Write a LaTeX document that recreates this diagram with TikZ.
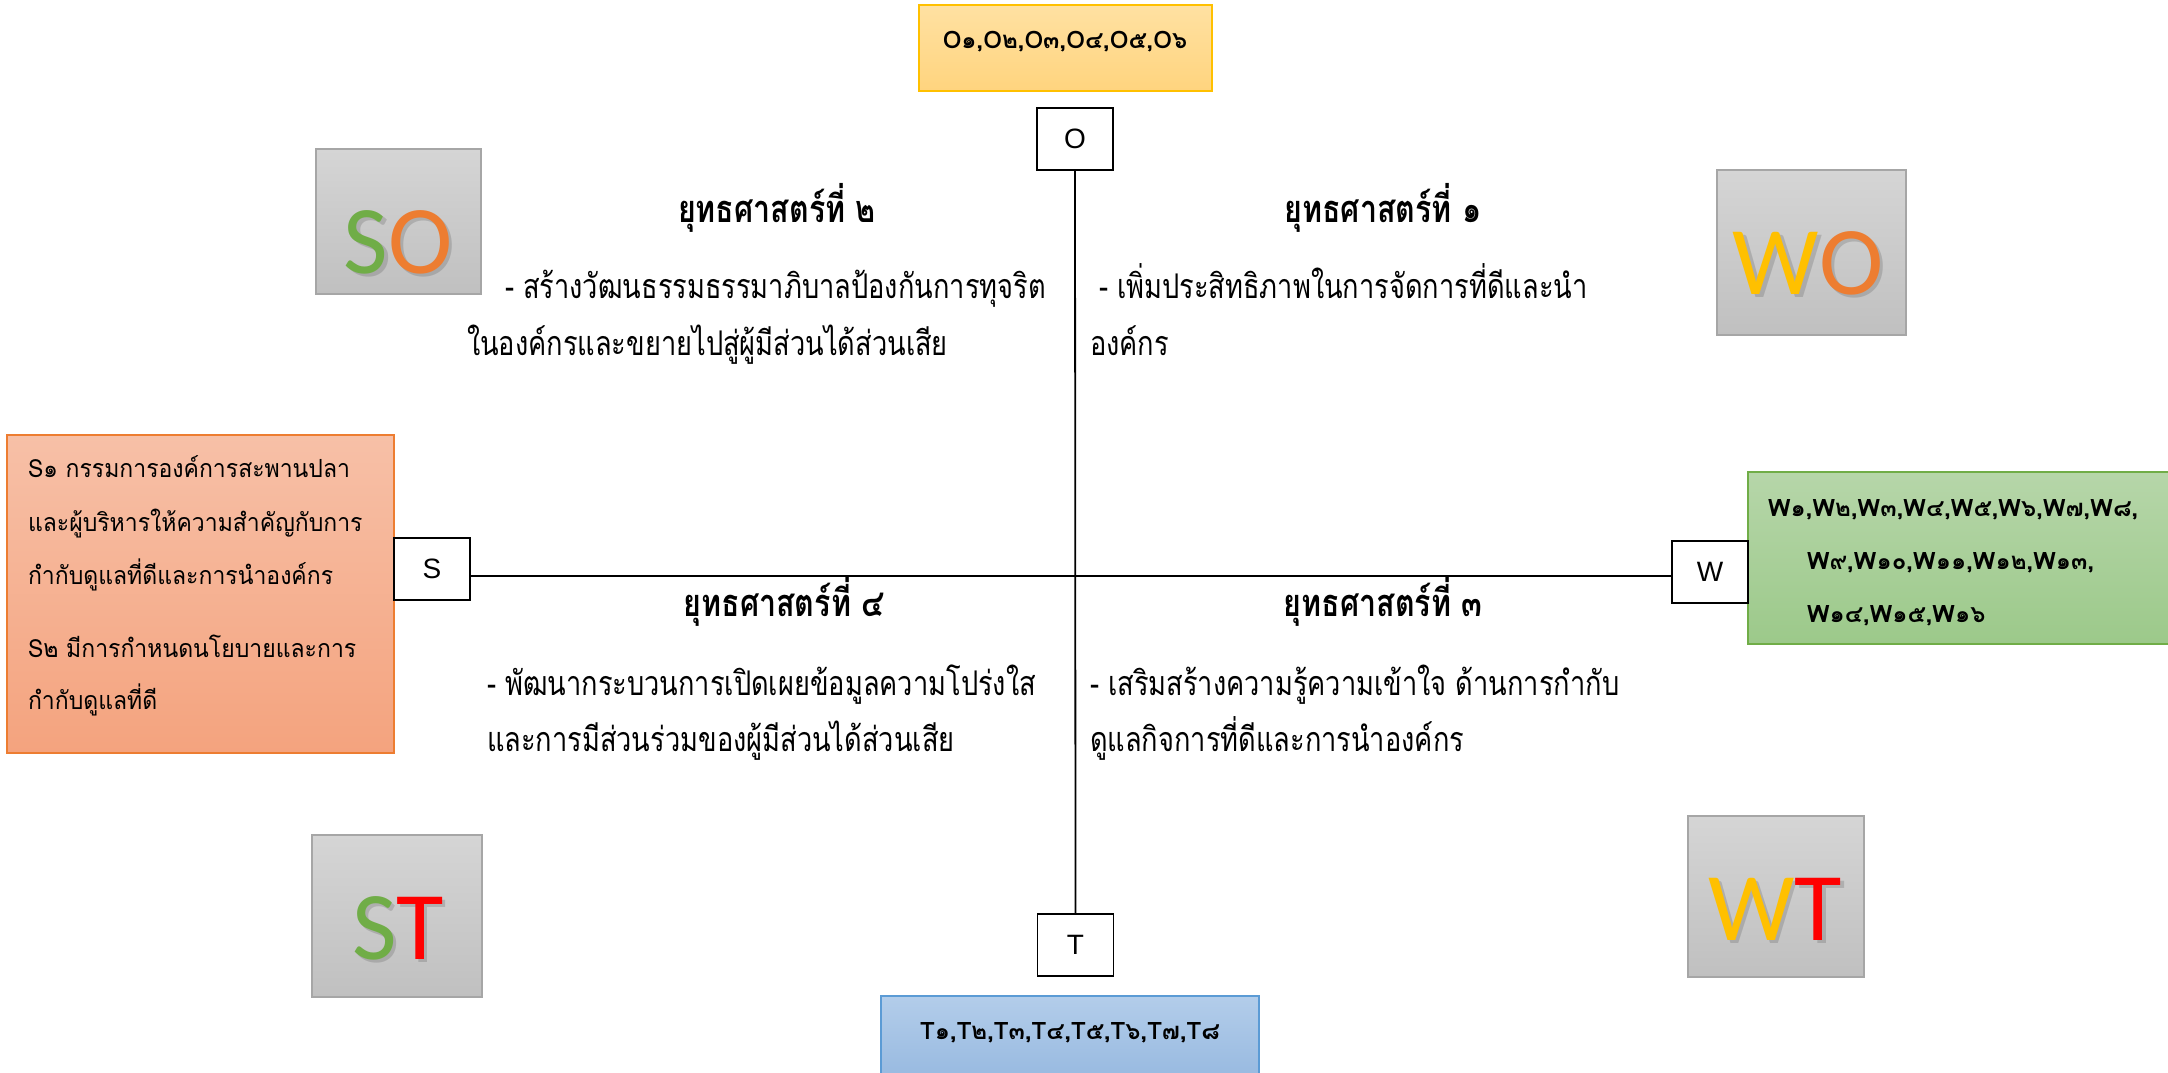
\documentclass[tikz,border=0pt]{standalone}
\usepackage{fontspec}
\setmainfont{Liberation Sans}
\newfontfamily\thaiS[Script=Thai,FakeStretch=0.92]{Loma}
\newfontfamily\thaiL[Script=Thai]{Loma}
\newfontfamily\thaiC[Script=Thai,FakeStretch=0.8]{Loma}
\newfontfamily\calib{Carlito}
\definecolor{ytop}{HTML}{FFE1A2}
\definecolor{ybot}{HTML}{FFD47E}
\definecolor{yedge}{HTML}{FFC000}
\definecolor{btop}{HTML}{B3CDEA}
\definecolor{bbot}{HTML}{97B9E0}
\definecolor{bedge}{HTML}{5B9BD5}
\definecolor{gtop}{HTML}{B6D6A9}
\definecolor{gbot}{HTML}{9CC98A}
\definecolor{gedge}{HTML}{70AD47}
\definecolor{otop}{HTML}{F7C0A7}
\definecolor{obot}{HTML}{F4A37E}
\definecolor{oedge}{HTML}{ED7D31}
\definecolor{grtop}{HTML}{D5D5D5}
\definecolor{grbot}{HTML}{C0C0C0}
\definecolor{gredge}{HTML}{A6A6A6}
\definecolor{sgreen}{HTML}{70AD47}
\definecolor{oorange}{HTML}{ED7D31}
\definecolor{wgold}{HTML}{FFC000}
\definecolor{tred}{HTML}{FF0000}
\begin{document}
\begin{tikzpicture}[x=1pt,y=-1pt,
  every node/.style={inner sep=0pt,outer sep=0pt},
  lblbox/.style={draw=black,line width=1.6pt,fill=white,minimum width=76pt,minimum height=62pt,
    font=\fontsize{28}{32}\selectfont},
  listbox/.style={line width=1.5pt},
  quadbox/.style={draw=gredge,line width=1.5pt,top color=grtop,bottom color=grbot},
  bigletter/.style={anchor=base,font=\calib\fontsize{97}{100}\selectfont},
  lettershadow/.style={anchor=base,font=\calib\fontsize{97}{100}\selectfont,text=black,opacity=0.14},
  heading/.style={anchor=base,font=\thaiC\bfseries\fontsize{38}{44}\selectfont},
  body/.style={anchor=base west,font=\thaiC\fontsize{34}{40}\selectfont},
  sline/.style={anchor=base west,font=\thaiS\fontsize{25}{30}\selectfont},
  listtext/.style={anchor=base,font=\thaiL\bfseries\fontsize{24}{28}\selectfont},
  wline/.style={anchor=base west,font=\thaiL\bfseries\fontsize{24}{28}\selectfont},
  axis/.style={line width=1.8pt,draw=black}
]
\useasboundingbox (0,0) rectangle (2168,1072);
\fill[white] (0,0) rectangle (2168,1072);

% coloured list boxes
\node[listbox,draw=yedge,top color=ytop,bottom color=ybot,minimum width=293pt,minimum height=86pt] (obox) at (1065.5,48) {};
\node[listtext] (otext) at (1065,48) {O๑,O๒,O๓,O๔,O๕,O๖};

\node[listbox,draw=bedge,top color=btop,bottom color=bbot,minimum width=378pt,minimum height=84pt] (tbox) at (1070,1038) {};
\node[listtext] (ttext) at (1070,1039) {T๑,T๒,T๓,T๔,T๕,T๖,T๗,T๘};

\node[listbox,draw=oedge,top color=otop,bottom color=obot,minimum width=387pt,minimum height=318pt] (sbox) at (200.5,594) {};
\node[sline] (s1) at (28,477) {S๑ กรรมการองค์การสะพานปลา};
\node[sline] (s2) at (28,531) {และผู้บริหารให้ความสำคัญกับการ};
\node[sline] (s3) at (28,584) {กำกับดูแลที่ดีและการนำองค์กร};
\node[sline] (s4) at (28,657) {S๒ มีการกำหนดนโยบายและการ};
\node[sline] (s5) at (28,709) {กำกับดูแลที่ดี};

\node[listbox,draw=gedge,top color=gtop,bottom color=gbot,minimum width=424pt,minimum height=172pt] (wbox) at (1960,558) {};
\node[wline] (w1) at (1768,516) {W๑,W๒,W๓,W๔,W๕,W๖,W๗,W๘,};
\node[wline] (w2) at (1807,569) {W๙,W๑๐,W๑๑,W๑๒,W๑๓,};
\node[wline] (w3) at (1807,622) {W๑๔,W๑๕,W๑๖};

% axis label boxes
\node[lblbox] (olbl) at (1075,139) {O};
\node[lblbox] (tlbl) at (1075.5,945) {T};
\node[lblbox] (slbl) at (432,569) {S};
\node[lblbox] (wlbl) at (1710,572) {W};

% axes
\draw[axis] (olbl.south) -- (tlbl.north);
\draw[axis] ([yshift=-7pt]slbl.east) -- ([yshift=-4pt]wlbl.west);

% quadrant boxes
\node[quadbox,minimum width=165pt,minimum height=145pt] (so) at (398.5,221.5) {};
\node[quadbox,minimum width=189pt,minimum height=165pt] (wo) at (1811.5,252.5) {};
\node[quadbox,minimum width=170pt,minimum height=162pt] (st) at (397,916) {};
\node[quadbox,minimum width=176pt,minimum height=161pt] (wt) at (1776,896.5) {};

\node[lettershadow] (sosh) at (401.5,276.5) {SO};
\node[bigletter] (solet) at (398,273) {\textcolor{sgreen}{S}\textcolor{oorange}{O}};
\node[lettershadow] (wosh) at (1811.5,297.5) {WO};
\node[bigletter] (wolet) at (1808,294) {\textcolor{wgold}{W}\textcolor{oorange}{O}};
\node[lettershadow] (stsh) at (401.5,962.5) {ST};
\node[bigletter] (stlet) at (398,959) {\textcolor{sgreen}{S}\textcolor{tred}{T}};
\node[lettershadow] (wtsh) at (1778.5,943.5) {WT};
\node[bigletter] (wtlet) at (1775,940) {\textcolor{wgold}{W}\textcolor{tred}{T}};

% strategies
\node[heading] (h2) at (777,222) {ยุทธศาสตร์ที่ ๒};
\node[body] (q2a) at (505,298) {- สร้างวัฒนธรรมธรรมาภิบาลป้องกันการทุจริต};
\node[body] (q2b) at (467,355) {ในองค์กรและขยายไปสู่ผู้มีส่วนได้ส่วนเสีย};

\node[heading] (h1) at (1383,222) {ยุทธศาสตร์ที่ ๑};
\node[body] (q1a) at (1099,298) {- เพิ่มประสิทธิภาพในการจัดการที่ดีและนำ};
\node[body] (q1b) at (1090,355) {องค์กร};

\node[heading] (h4) at (784,616) {ยุทธศาสตร์ที่ ๔};
\node[body] (q4a) at (487,695) {- พัฒนากระบวนการเปิดเผยข้อมูลความโปร่งใส};
\node[body] (q4b) at (487,751) {และการมีส่วนร่วมของผู้มีส่วนได้ส่วนเสีย};

\node[heading] (h3) at (1383,616) {ยุทธศาสตร์ที่ ๓};
\node[body] (q3a) at (1090,695) {- เสริมสร้างความรู้ความเข้าใจ ด้านการกำกับ};
\node[body] (q3b) at (1090,751) {ดูแลกิจการที่ดีและการนำองค์กร};
\end{tikzpicture}
\end{document}
